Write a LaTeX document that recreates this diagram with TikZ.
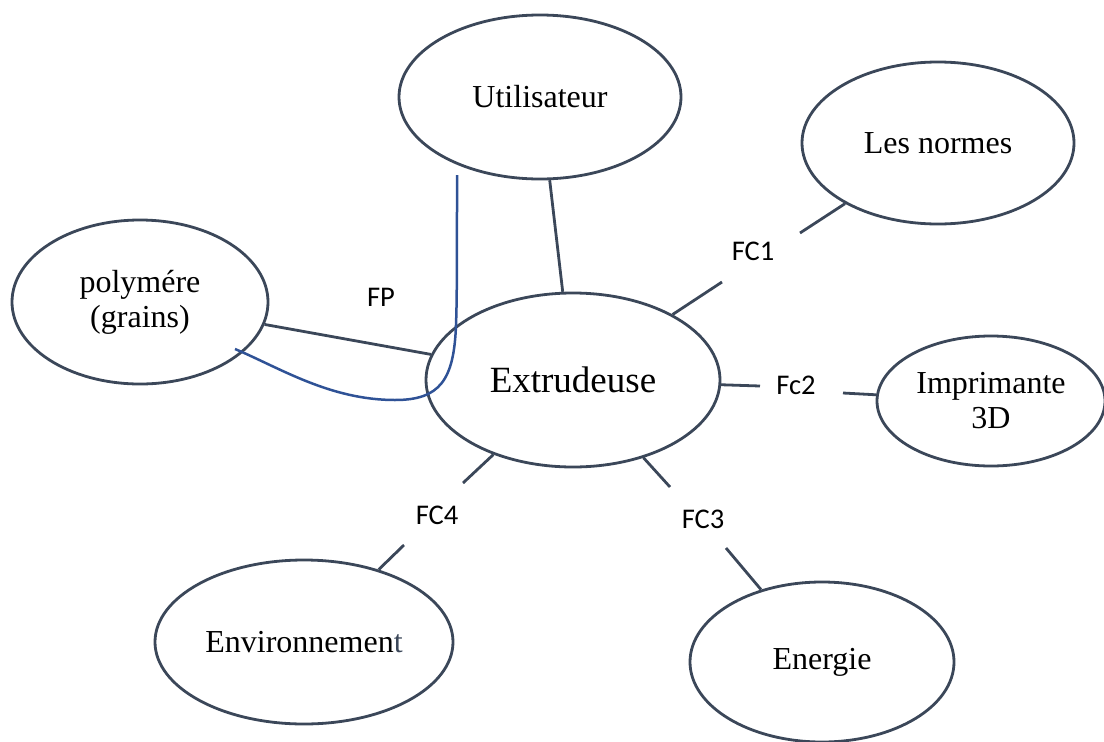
\documentclass[tikz,border=0pt]{standalone}
\usepackage{fontspec}
\setmainfont{Liberation Serif}
\newfontfamily\labelfont{Carlito}
\usetikzlibrary{shapes.geometric,calc}
\definecolor{edge}{RGB}{59,71,89}
\definecolor{curveblue}{RGB}{47,82,150}
\begin{document}
\begin{tikzpicture}[x=1pt,y=-1pt,
  bubble/.style={ellipse, draw=edge, line width=2.8pt, inner sep=0pt, align=center,
    font=\fontsize{32}{35}\selectfont},
  link/.style={draw=edge, line width=2.8pt},
  fclabel/.style={font=\labelfont\fontsize{28.5}{30}\selectfont, inner sep=0pt}]
\useasboundingbox (0,0) rectangle (1104,742);
\clip (0,0) rectangle (1104,742);

% actors around the machine
\node[bubble, minimum width=282pt, minimum height=164pt] (util) at (540,97) {Utilisateur};
\node[bubble, minimum width=272pt, minimum height=162pt] (normes) at (938,143) {Les normes};
\node[bubble, minimum width=256pt, minimum height=164pt] (poly) at (140,302) {polymére\\(grains)};
\node[bubble, minimum width=294pt, minimum height=174pt,
      font=\fontsize{37}{40}\selectfont] (ext) at (573,380) {Extrudeuse};
\node[bubble, minimum width=228pt, minimum height=130pt] (impr) at (991,401) {Imprimante\\3D};
\node[bubble, minimum width=298pt, minimum height=164pt] (env) at (304,642) {Environnemen\textcolor{edge}{t}};
\node[bubble, minimum width=264pt, minimum height=160pt] (nrj) at (822,662) {Energie};

% break points of the interrupted links
\coordinate (fc1a) at (722,282);
\coordinate (fc1b) at (800,233);
\coordinate (fc2a) at (760,386);
\coordinate (fc2b) at (843,393);
\coordinate (fc3a) at (670,487);
\coordinate (fc3b) at (726,548);
\coordinate (fc4a) at (463,483);
\coordinate (fc4b) at (404,545);

% links
\draw[link] (util) -- (ext);
\draw[link] (poly) -- (ext);
\draw[link] (ext) -- (fc1a);
\draw[link] (fc1b) -- (normes);
\draw[link] (ext) -- (fc2a);
\draw[link] (fc2b) -- (impr);
\draw[link] (ext) -- (fc3a);
\draw[link] (fc3b) -- (nrj);
\draw[link] (ext) -- (fc4a);
\draw[link] (fc4b) -- (env);

% labels
\node[fclabel] (lfp) at (381,297) {FP};
\node[fclabel] (lfc1) at (753,251) {FC1};
\node[fclabel] (lfc2) at (796,385) {Fc2};
\node[fclabel] (lfc3) at (703,519) {FC3};
\node[fclabel] (lfc4) at (437,515) {FC4};

% principal function path: from the user, through the machine, to the pellets
\coordinate (fpstart) at (457,175);
\coordinate (fpend) at (235,349);
\draw[curveblue, line width=2.5pt]
  (fpstart) .. controls (457,260) and (457,300) .. (456,325)
  .. controls (454,380) and (440,400) .. (395,400)
  .. controls (330,400) and (280,368) .. (fpend);
\end{tikzpicture}
\end{document}
